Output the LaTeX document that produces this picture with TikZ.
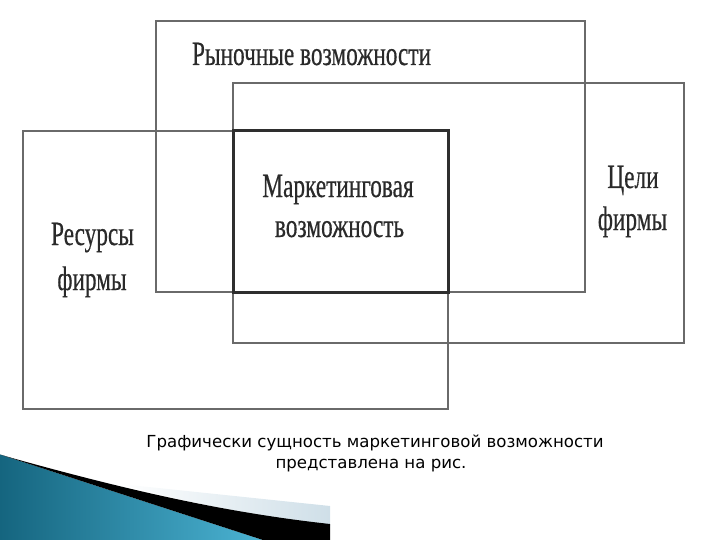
\documentclass[tikz,border=0pt]{standalone}
\usepackage{fontspec}
\newfontfamily\scanfont[FakeStretch=0.685,FakeBold=0.4]{Liberation Serif}
\newfontfamily\captfont{DejaVu Sans}
\definecolor{linegray}{HTML}{6A6A6A}
\definecolor{darkline}{HTML}{2E2E2E}
\definecolor{txtgray}{HTML}{2A2A2A}
\definecolor{tealdark}{HTML}{15657F}
\definecolor{teallight}{HTML}{4BB3D3}
\definecolor{stripblue}{HTML}{CFDFE8}
\begin{document}
\begin{tikzpicture}[x=1pt,y=-1pt,
  frame/.style={draw=linegray,line width=2.6pt},
  core/.style={draw=darkline,line width=3pt},
  lbl/.style={text=txtgray,font=\scanfont\fontsize{34}{34}\selectfont,anchor=base,inner sep=0pt},
  capt/.style={text=black,font=\captfont\fontsize{16.6}{19}\selectfont,inner sep=0pt}]
\useasboundingbox (0,0) rectangle (720,540);
% decoration bottom-left
\shade[left color=tealdark,right color=teallight] (0,454.5) -- (263,540) -- (0,540) -- cycle;
\shade[left color=white,right color=stripblue] (120,484) -- (330,506) -- (330,526) .. controls (220,510) and (170,498) .. (120,484) -- cycle;
\fill[black] (12,458) .. controls (120,488) and (220,512) .. (330,524) -- (330,540) -- (263,540) -- (0,454.5) -- cycle;
% rectangles
\draw[frame] (156,21) rectangle (585,292);
\draw[frame] (233,83) rectangle (684,343);
\draw[frame] (23,131) rectangle (448,409);
\draw[core] (233,131) rectangle (448,292);
% labels
\node[lbl] (rynok) at (311.5,65) {Рыночные возможности};
\node[lbl] (mark1) at (338,197) {Маркетинговая};
\node[lbl] (mark2) at (339.5,237) {возможность};
\node[lbl] (res1) at (92.5,245) {Ресурсы};
\node[lbl] (res2) at (92,290) {фирмы};
\node[lbl] (celi1) at (633,188) {Цели};
\node[lbl] (celi2) at (632.5,230) {фирмы};
% caption
\node[capt] (c1) at (375,443) {Графически сущность маркетинговой возможности};
\node[capt] (c2) at (371,466) {представлена на рис.};
\end{tikzpicture}
\end{document}
